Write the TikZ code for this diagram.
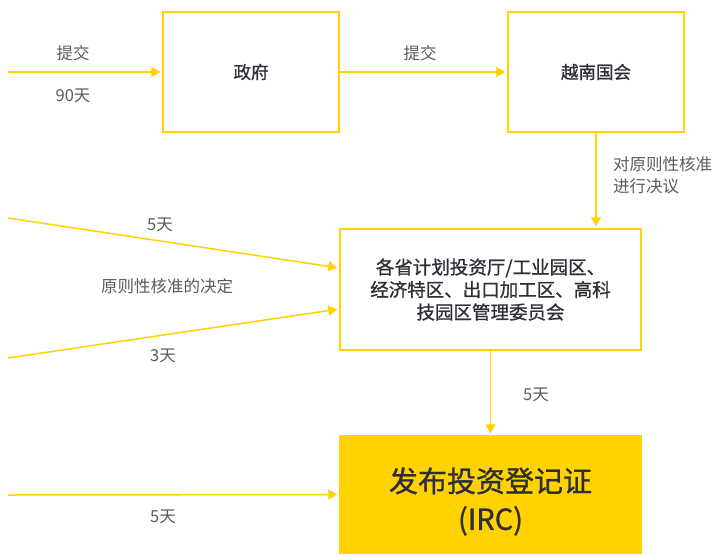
\documentclass[tikz,border=0pt]{standalone}
\usepackage{fontspec}
\setmainfont{Noto Sans CJK SC}
\newfontfamily\boxfont[FakeBold=1.0]{Noto Sans CJK SC}
\usetikzlibrary{arrows.meta}
\definecolor{eyyellow}{HTML}{FFD200}
\definecolor{eydark}{HTML}{2E2E38}
\definecolor{eygrey}{HTML}{5A5A64}
\begin{document}
\begin{tikzpicture}[x=1pt,y=-1pt,
    box/.style={draw=eyyellow,line width=1.5pt,minimum width=176pt,minimum height=120pt,
      inner sep=0pt,align=center,text=eydark,font=\boxfont\fontsize{17.5}{22.5}\selectfont},
    flow/.style={draw=eyyellow,line width=1.5pt,shorten >=2pt,-{Triangle[width=10pt,length=9pt]}},
    lbl/.style={inner sep=0pt,text=eygrey,font=\fontsize{16.5}{22}\selectfont}]
  \useasboundingbox (0,0) rectangle (717,555);
  \node[box] (gov) at (251,72) {政府};
  \node[box] (na) at (596,72) {越南国会};
  \node[box,minimum width=301pt,minimum height=121pt,
    font=\boxfont\fontsize{18.5}{22.5}\selectfont] (prov) at (490.5,289.5)
    {各省计划投资厅/工业园区、\\经济特区、出口加工区、高科\\技园区管理委员会};
  \node[box,fill=eyyellow,minimum width=301pt,minimum height=117pt] (irc) at (490.5,494.5) {};
  \node[align=center,text=eydark,font=\boxfont\fontsize{29}{38}\selectfont]
    (irctxt) at ([yshift=-7pt]irc.center) {发布投资登记证\\(IRC)};
  \coordinate (in1) at (8,72);
  \coordinate (in2) at (8,218);
  \coordinate (in3) at (8,358);
  \coordinate (in4) at (8,495);
  % connectors
  \draw[flow] (in1) -- (gov.west);
  \draw[flow] (gov) -- (na);
  \draw[flow] (na.south) -- (prov.north -| na.south);
  \draw[flow] (in2) -- ([yshift=21.5pt]prov.west);
  \draw[flow] (in3) -- ([yshift=-19.5pt]prov.west);
  \draw[flow] (prov) -- (irc);
  \draw[flow] (in4) -- (irc.west);
  % labels
  \node[lbl] (sub1) at (73,53) {提交};
  \node[lbl] (d90) at (73,96) {90天};
  \node[lbl] (sub2) at (420,53) {提交};
  \node[lbl,align=left,anchor=west] (vote) at (613,175) {对原则性核准\\进行决议};
  \node[lbl] (d5a) at (160,225) {5天};
  \node[lbl] (dec) at (167,286) {原则性核准的决定};
  \node[lbl] (d3) at (163,356) {3天};
  \node[lbl] (d5b) at (536,395) {5天};
  \node[lbl] (d5c) at (163,517) {5天};
\end{tikzpicture}
\end{document}
